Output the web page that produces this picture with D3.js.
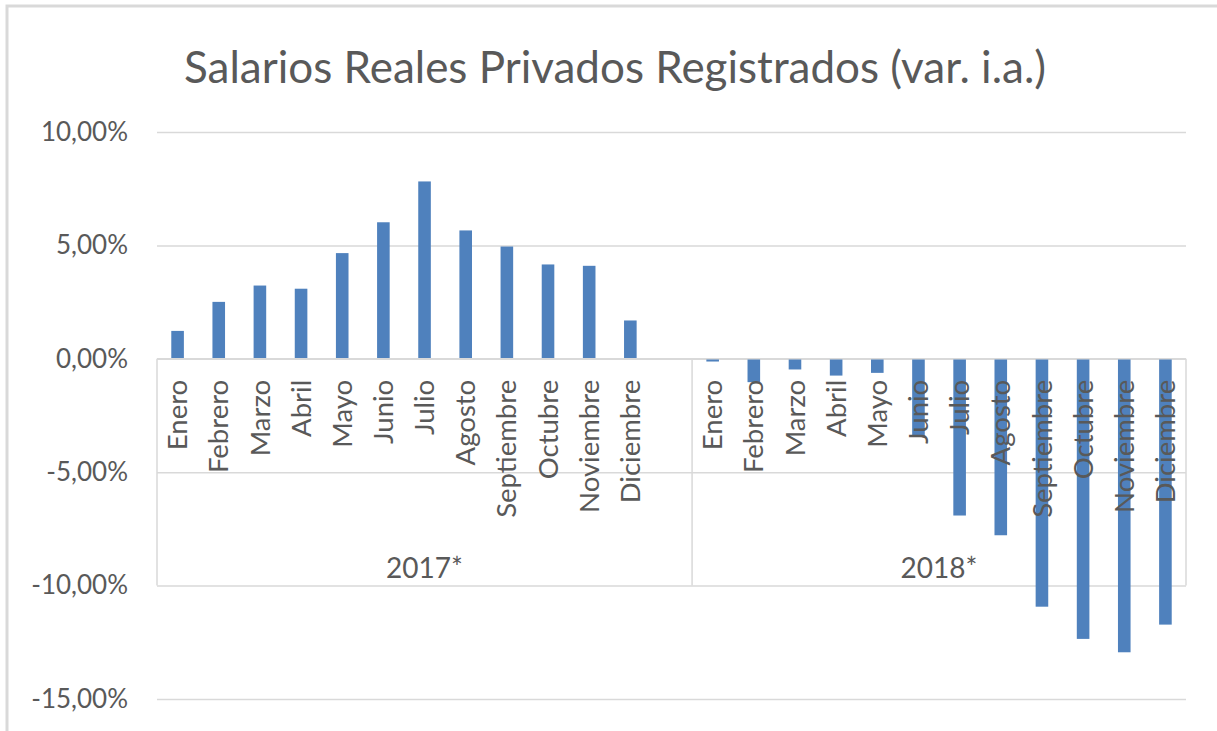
<!DOCTYPE html>
<html>
<head>
<meta charset="utf-8">
<script src="https://cdn.jsdelivr.net/npm/d3@7"></script>
<style>
	body { margin: 0; background: #fff; }
	text { font-family: Lato, "Open Sans", sans-serif; fill: #595959; }
</style>
</head>
<body>
<script>
var title = "Salarios Reales Privados Registrados (var. i.a.)";
var years = ["2017*", "2018*"];
var months = ["Enero", "Febrero", "Marzo", "Abril", "Mayo", "Junio", "Julio",
	"Agosto", "Septiembre", "Octubre", "Noviembre", "Diciembre"];
var values2017 = [1.23, 2.51, 3.23, 3.09, 4.66, 6.02, 7.82, 5.66, 4.95, 4.16, 4.10, 1.69];
var values2018 = [-0.12, -1.03, -0.47, -0.74, -0.62, -3.41, -6.91, -7.78, -10.93, -12.35, -12.94, -11.72];
var yTicks = [10, 5, 0, -5, -10, -15];

var width = 1217,
	height = 731,
	plot = {left: 157, right: 1186, top: 132, bottom: 699};

// rows: 2017 has a trailing empty slot in the original sheet
var rows = [];
months.forEach(function(m, i) { rows.push({year: years[0], month: m, value: values2017[i]}); });
rows.push({year: years[0], month: "", value: null});
months.forEach(function(m, i) { rows.push({year: years[1], month: m, value: values2018[i]}); });
rows.forEach(function(d, i) { d.key = d.year + "|" + d.month + "|" + i; });

var x = d3.scaleBand()
	.domain(rows.map(function(d) { return d.key; }))
	.range([plot.left, plot.right])
	.paddingInner(0.694)
	.paddingOuter(0.347);

var y = d3.scaleLinear()
	.domain([-15, 10])
	.range([plot.bottom, plot.top]);

var svg = d3.select('body')
	.append('svg')
	.attr('width', width)
	.attr('height', height);

svg.append('rect')
	.attr('width', width)
	.attr('height', height)
	.attr('fill', '#fff');

// chart frame (only top and left edges are visible)
svg.append('rect')
	.attr('x', 7)
	.attr('y', 6)
	.attr('width', 1400)
	.attr('height', 900)
	.attr('fill', 'none')
	.attr('stroke', '#d9d9d9')
	.attr('stroke-width', 3);

svg.append('text')
	.attr('x', 615)
	.attr('y', 83)
	.attr('text-anchor', 'middle')
	.style('font-size', '44px')
	.text(title);

// y gridlines + labels
var yAxis = d3.axisLeft(y)
	.tickValues(yTicks)
	.tickSize(-(plot.right - plot.left))
	.tickPadding(29)
	.tickFormat(function(d) { return d3.format('.2f')(d).replace('.', ',').replace('\u2212', '-') + '%'; });

var gy = svg.append('g')
	.attr('transform', 'translate(' + plot.left + ',0)')
	.call(yAxis);
gy.select('.domain').remove();
gy.selectAll('line').attr('stroke', '#d9d9d9').attr('stroke-width', 1.5);
gy.selectAll('text').style('font-size', '26px').attr('fill', '#595959');

// bars
svg.selectAll('.bar')
	.data(rows.filter(function(d) { return d.value !== null; }))
	.enter().append('rect')
	.attr('class', 'bar')
	.attr('x', function(d) { return x(d.key); })
	.attr('width', x.bandwidth())
	.attr('y', function(d) { return y(Math.max(0, d.value)); })
	.attr('height', function(d) { return Math.abs(y(d.value) - y(0)); })
	.attr('fill', '#4f81bd');

// category axis line and group separators
svg.append('line')
	.attr('x1', plot.left).attr('x2', plot.right)
	.attr('y1', y(0)).attr('y2', y(0))
	.attr('stroke', '#d9d9d9').attr('stroke-width', 1.5);

var gap = (x.step() - x.bandwidth()) / 2;
var groups = years.map(function(yr) {
	var r = rows.filter(function(d) { return d.year == yr; });
	return {
		year: yr,
		x0: x(r[0].key) - gap,
		x1: x(r[r.length - 1].key) + x.bandwidth() + gap
	};
});

var edges = [groups[0].x0].concat(groups.map(function(g) { return g.x1; }));
svg.selectAll('.sep')
	.data(edges)
	.enter().append('line')
	.attr('class', 'sep')
	.attr('x1', function(d) { return d; }).attr('x2', function(d) { return d; })
	.attr('y1', y(0)).attr('y2', y(-10))
	.attr('stroke', '#d9d9d9').attr('stroke-width', 1.5);

// month labels, rotated, drawn over the bars
svg.selectAll('.month')
	.data(rows.filter(function(d) { return d.month != ""; }))
	.enter().append('text')
	.attr('class', 'month')
	.attr('transform', function(d) {
		return 'translate(' + (x(d.key) + x.bandwidth() / 2) + ',' + (y(0) + 21) + ') rotate(-90)';
	})
	.attr('dy', '0.35em')
	.attr('text-anchor', 'end')
	.style('font-size', '27.5px')
	.text(function(d) { return d.month; });

// year labels
svg.selectAll('.year')
	.data(groups)
	.enter().append('text')
	.attr('class', 'year')
	.attr('x', function(d) { return (d.x0 + d.x1) / 2; })
	.attr('y', 578)
	.attr('text-anchor', 'middle')
	.style('font-size', '28px')
	.text(function(d) { return d.year; });
</script>
</body>
</html>
